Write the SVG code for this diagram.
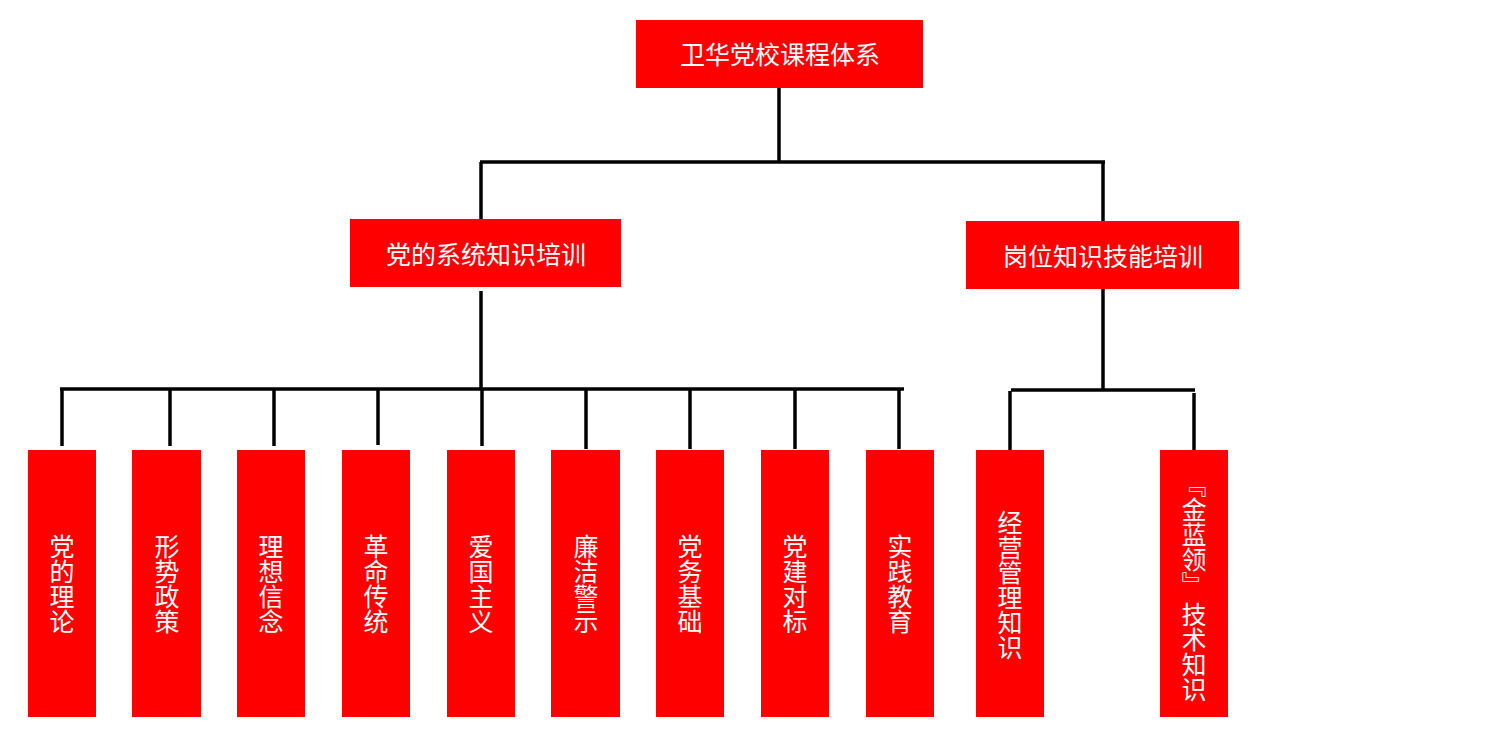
<svg xmlns="http://www.w3.org/2000/svg" width="1505" height="739" viewBox="0 0 1505 739">
<style>
.box{fill:#ff0000;}
.t{fill:#ffffff;font-family:"Noto Sans CJK SC","Microsoft YaHei",sans-serif;font-size:25px;text-anchor:middle;}
.v{writing-mode:vertical-rl;dominant-baseline:central;}
.c{stroke:#000000;stroke-width:3.5;fill:none;stroke-linecap:butt;}
</style>
<rect width="1505" height="739" fill="#ffffff"/>
<g id="connectors">
<path class="c" d="M779 88 V162"/>
<path class="c" d="M480 162 H1105"/>
<path class="c" d="M481 162 V219"/>
<path class="c" d="M1103 162 V221"/>
<path class="c" d="M481 291 V389"/>
<path class="c" d="M60 389 H904"/>
<path class="c" d="M62 389 V446"/>
<path class="c" d="M170 389 V446"/>
<path class="c" d="M274 389 V446"/>
<path class="c" d="M378 389 V445"/>
<path class="c" d="M482 389 V446"/>
<path class="c" d="M586 389 V449"/>
<path class="c" d="M690 389 V449"/>
<path class="c" d="M795 389 V449"/>
<path class="c" d="M899 389 V449"/>
<path class="c" d="M1103 289 V390"/>
<path class="c" d="M1011 390 H1195"/>
<path class="c" d="M1010 391 V450"/>
<path class="c" d="M1194 393 V450"/>
</g>
<g id="root">
<rect class="box" x="636" y="20" width="287" height="68"/>
<text class="t" x="780" y="64">卫华党校课程体系</text>
</g>
<g id="party">
<rect class="box" x="350" y="219" width="271" height="68"/>
<text class="t" x="486" y="264">党的系统知识培训</text>
</g>
<g id="job">
<rect class="box" x="966" y="221" width="273" height="68"/>
<text class="t" x="1103" y="266">岗位知识技能培训</text>
</g>
<g id="n1"><rect class="box" x="28" y="450" width="68" height="267"/><text class="t v" x="62" y="584">党的理论</text></g>
<g id="n2"><rect class="box" x="132" y="450" width="69" height="267"/><text class="t v" x="167" y="584">形势政策</text></g>
<g id="n3"><rect class="box" x="237" y="450" width="68" height="267"/><text class="t v" x="271" y="584">理想信念</text></g>
<g id="n4"><rect class="box" x="342" y="450" width="68" height="267"/><text class="t v" x="376" y="584">革命传统</text></g>
<g id="n5"><rect class="box" x="447" y="450" width="68" height="267"/><text class="t v" x="481" y="584">爱国主义</text></g>
<g id="n6"><rect class="box" x="551" y="450" width="69" height="267"/><text class="t v" x="586" y="584">廉洁警示</text></g>
<g id="n7"><rect class="box" x="656" y="450" width="68" height="267"/><text class="t v" x="690" y="584">党务基础</text></g>
<g id="n8"><rect class="box" x="761" y="450" width="68" height="267"/><text class="t v" x="795" y="584">党建对标</text></g>
<g id="n9"><rect class="box" x="866" y="450" width="68" height="267"/><text class="t v" x="900" y="584">实践教育</text></g>
<g id="n10"><rect class="box" x="976" y="450" width="68" height="267"/><text class="t v" x="1010" y="585">经营管理知识</text></g>
<g id="n11"><rect class="box" x="1160" y="450" width="68" height="267"/><text class="t v" x="1194" y="587">『金蓝领』 技术知识</text></g>
</svg>
